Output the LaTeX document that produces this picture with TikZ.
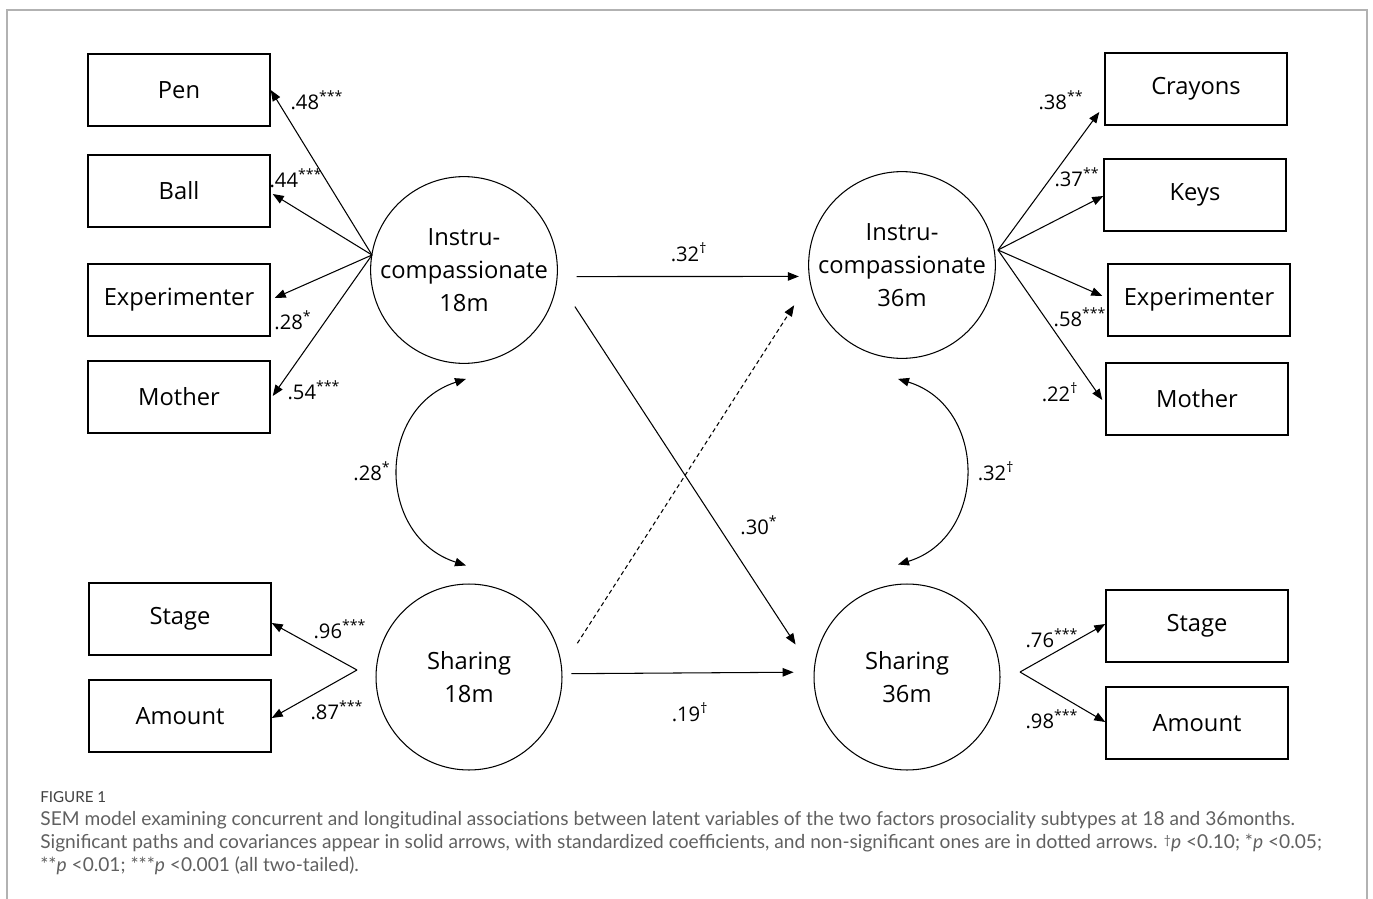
\documentclass[tikz,border=0pt]{standalone}
\usepackage{fontspec}
\setmainfont{Open Sans}
\newfontfamily\capfont{Lato}
\usetikzlibrary{arrows.meta,positioning}
\definecolor{framegray}{HTML}{B2B2B2}
\definecolor{capgray}{HTML}{606060}
\newcommand{\sig}[1]{\textsuperscript{#1}}
\tikzset{
  obs/.style={draw, line width=0.85pt, minimum width=3.64cm, minimum height=1.44cm,
    inner sep=0pt, font=\fontsize{13.5}{16}\selectfont},
  lat/.style={draw, circle, line width=0.6pt, minimum size=3.72cm, inner sep=0pt,
    align=center, font=\fontsize{13.5}{18.7}\selectfont},
  path/.style={-{Triangle[length=2.2mm,width=1.7mm]}, line width=0.6pt},
  cov/.style={{Triangle[length=2.2mm,width=1.7mm]}-{Triangle[length=2.2mm,width=1.7mm]}, line width=0.6pt},
  coef/.style={inner sep=0pt, font=\fontsize{11.5}{13}\selectfont},
  capline/.style={anchor=west, inner sep=0pt, text=capgray, font=\capfont\fontsize{10.9}{13}\selectfont}
}
\begin{document}
\begin{tikzpicture}[x=0.02cm,y=-0.02cm]
\useasboundingbox (0,0) rectangle (1373,899);
\draw[framegray, line width=1.2pt] (7,899) -- (7,10) -- (1367,10) -- (1367,899);

% latent variables
\node[lat] (instA) at (464,270) {Instru-\\compassionate\\18m};
\node[lat] (instB) at (902,265) {Instru-\\compassionate\\36m};
\node[lat] (shA) at (469,677) {Sharing\\18m};
\node[lat] (shB) at (907,677) {Sharing\\36m};

% indicators 18m
\node[obs] (penA) at (179,90) {Pen};
\node[obs] (ballA) at (179,191) {Ball};
\node[obs] (expA) at (179,300) {Experimenter};
\node[obs] (motA) at (179,397) {Mother};
\node[obs] (stageA) at (180,619) {Stage};
\node[obs] (amountA) at (180,716) {Amount};

% indicators 36m
\node[obs] (crayB) at (1196,89) {Crayons};
\node[obs] (keysB) at (1195,195) {Keys};
\node[obs] (expB) at (1199,300) {Experimenter};
\node[obs] (motB) at (1197,399) {Mother};
\node[obs] (stageB) at (1197,626) {Stage};
\node[obs] (amountB) at (1197,723) {Amount};

\path (372,255) coordinate (fanA)
      (357,670) coordinate (fanB)
      (998,250) coordinate (fanC)
      (1020,672) coordinate (fanD);

\draw[path] (fanA) -- (penA.east);
\draw[path] (fanA) -- ([shift={(2,3)}]ballA.east);
\draw[path] (fanA) -- ([shift={(4,-2)}]expA.east);
\draw[path] (fanA) -- ([shift={(2,-1)}]motA.east);
\draw[path] (fanB) -- ([shift={(0,4)}]stageA.east);
\draw[path] (fanB) -- ([shift={(0,2)}]amountA.east);

\draw[path] (fanC) -- ([shift={(-5,23)}]crayB.west);
\draw[path] (fanC) -- ([shift={(0,1)}]keysB.west);
\draw[path] (fanC) -- ([shift={(-5,-4)}]expB.west);
\draw[path] (fanC) -- ([shift={(-3,1)}]motB.west);
\draw[path] (fanD) -- ([shift={(0,-2)}]stageB.west);
\draw[path] (fanD) -- ([shift={(0,-1)}]amountB.west);

% structural paths
\draw[path, shorten <=0.38cm, shorten >=0.2cm] (instA.-4) -- (instB.187);
\draw[path, shorten <=0.18cm, shorten >=0.4cm] (shA.2.5) -- (shB.177.5);
\draw[path, shorten <=0.64cm, shorten >=0.66cm] (instA.-6) -- (shB.177);
\draw[path, dash pattern=on 2.4pt off 1.8pt, shorten <=0.57cm, shorten >=0.57cm] (shA.6) -- (instB.190);

% covariances
\draw[cov] ([shift={(2,15)}]instA.south) to[out=198, in=162, looseness=1.3] ([shift={(-3,-18)}]shA.north);
\draw[cov] ([shift={(-4,20)}]instB.south) to[out=-17, in=17, looseness=1.3] ([shift={(-9,-19)}]shB.north);

% coefficients
\node[coef] (cPen) at (317,100) {.48\sig{***}};
\node[coef] (cBall) at (296,178) {.44\sig{***}};
\node[coef] (cExpA) at (293,320) {.28\sig{*}};
\node[coef] (cMotA) at (314,390) {.54\sig{***}};
\node[coef] (cStA) at (340,629) {.96\sig{***}};
\node[coef] (cAmA) at (337,710) {.87\sig{***}};
\node[coef] (cCovA) at (372,471) {.28\sig{*}};
\node[coef] (cInst) at (689,252) {.32\sig{\textdagger}};
\node[coef] (cCross) at (759,525) {.30\sig{*}};
\node[coef] (cShare) at (690,712) {.19\sig{\textdagger}};
\node[coef] (cCovB) at (996,471) {.32\sig{\textdagger}};
\node[coef] (cCray) at (1061,100) {.38\sig{**}};
\node[coef] (cKeys) at (1077,177) {.37\sig{**}};
\node[coef] (cExpB) at (1080,317) {.58\sig{***}};
\node[coef] (cMotB) at (1060,392) {.22\sig{\textdagger}};
\node[coef] (cStB) at (1052,638) {.76\sig{***}};
\node[coef] (cAmB) at (1052,719) {.98\sig{***}};

% caption
\node[capline, text=capgray!120, font=\capfont\fontsize{8.6}{10}\selectfont] (capHead) at (40,797) {FIGURE 1};
\node[capline] (capL1) at (40,820) {SEM model examining concurrent and longitudinal associations between latent variables of the two factors prosociality subtypes at 18 and 36months.};
\node[capline] (capL2) at (40,843) {Significant paths and covariances appear in solid arrows, with standardized coefficients, and non-significant ones are in dotted arrows. {\scriptsize\raisebox{0.6ex}{\textdagger}}\textit{p} <0.10; *\textit{p} <0.05;};
\node[capline] (capL3) at (40,866) {**\textit{p} <0.01; ***\textit{p} <0.001 (all two-tailed).};
\end{tikzpicture}
\end{document}
